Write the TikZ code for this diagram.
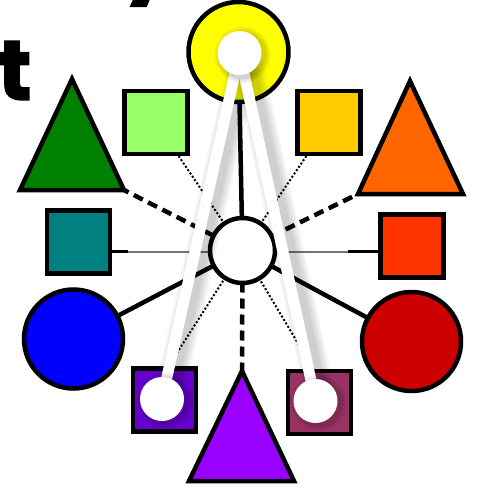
\documentclass[tikz,border=0pt]{standalone}
\usepackage{fontspec}
\newfontfamily\heavy{Poppins}[BoldFeatures={FakeBold=1.5}]
\definecolor{cLightGreen}{HTML}{99FF66}
\definecolor{cYellow}{HTML}{FFFF00}
\definecolor{cGold}{HTML}{FFCC00}
\definecolor{cOrange}{HTML}{FF6600}
\definecolor{cRedOrange}{HTML}{FF3300}
\definecolor{cRed}{HTML}{CC0000}
\definecolor{cMauve}{HTML}{993366}
\definecolor{cViolet}{HTML}{9900FF}
\definecolor{cPurple}{HTML}{6600CC}
\definecolor{cBlue}{HTML}{0000FF}
\definecolor{cTeal}{HTML}{008080}
\definecolor{cGreen}{HTML}{008000}
\begin{document}
\begin{tikzpicture}[x=1pt,y=-1pt,
  outl/.style={draw=black, line width=4.5pt, line join=miter},
  sq/.style={outl, rectangle, minimum size=63pt, inner sep=0pt},
  rnd/.style={outl, circle, inner sep=0pt},
  thickline/.style={line width=4.5pt},
  dashline/.style={line width=4.5pt, dash pattern=on 10pt off 6pt},
  dotline/.style={line width=2pt, dash pattern=on 2pt off 2pt},
  thinline/.style={line width=2pt},
  hole/.style={circle, fill=white, minimum size=44pt, inner sep=0pt},
  holeshade/.style={circle, fill=black, opacity=0.06, inner sep=0pt},
  beamshade/.style={line cap=butt, black, opacity=0.04},
  beam/.style={line width=11pt, white, line cap=butt},
  bigtext/.style={anchor=base west, inner sep=0pt, font=\heavy\bfseries\fontsize{85}{85}\selectfont}
  ]
\useasboundingbox (0,0) rectangle (477,489);
\fill[white] (0,0) rectangle (477,489);

% partial heading text
\node[bigtext] (ty) at (122,-16) {y};
\node[bigtext] (tt) at (-3,100) {t};

% centres and corner points
\coordinate (cC) at (242.5,250.5);
\coordinate (yelC) at (238.5,52);
\coordinate (blueC) at (73.5,339);
\coordinate (redC) at (411.5,341.5);
\coordinate (lgC) at (156,122.5);
\coordinate (goldC) at (329,122.5);
\coordinate (tealC) at (78.5,242);
\coordinate (roC) at (412,246);
\coordinate (puC) at (164.5,400);
\coordinate (muC) at (319.5,402.5);
\coordinate (gA) at (72,79);  \coordinate (gL) at (20,190);  \coordinate (gR) at (124,190);
\coordinate (oA) at (410,81); \coordinate (oL) at (358,194); \coordinate (oR) at (463,194);
\coordinate (vA) at (242,371); \coordinate (vL) at (189,481); \coordinate (vR) at (294,481);
\coordinate (puEnd) at (166,370);
\coordinate (muEnd) at (314,370);
\coordinate (tealMid) at (128,251.5);
\coordinate (roMid) at (348,251.5);

% connectors (drawn first, shapes cover their ends)
\draw[thickline] (cC) -- (yelC);
\draw[dashline] (cC) -- (gR);
\draw[dashline] (cC) -- (oL);
\draw[dashline] (cC) -- (vA);
\draw[dotline] (cC) -- (lgC);
\draw[dotline] (cC) -- (goldC);
\draw[dotline] (cC) -- (puEnd);
\draw[dotline] (cC) -- (muEnd);
\draw[thickline] (cC) -- (blueC);
\draw[thickline] (cC) -- (redC);
\draw[thinline, black!55] (cC |- tealMid) -- (tealMid);
\draw[thinline, line width=2.4pt] (tealMid) -- (tealC |- tealMid);
\draw[thinline, black!55] (cC |- roMid) -- (roMid);
\draw[thinline, line width=2.4pt] (roMid) -- (roC |- roMid);

% shapes
\filldraw[outl, fill=cGreen] (gA) -- (gL) -- (gR) -- cycle;
\filldraw[outl, fill=cOrange] (oA) -- (oL) -- (oR) -- cycle;
\filldraw[outl, fill=cViolet] (vA) -- (vL) -- (vR) -- cycle;

\node[rnd, fill=cYellow, minimum size=100pt] (yel) at (yelC) {};
\node[rnd, fill=cBlue, minimum size=99pt] (blue) at (blueC) {};
\node[rnd, fill=cRed, minimum size=99pt] (red) at (redC) {};

\node[sq, fill=cLightGreen] (lg) at (lgC) {};
\node[sq, fill=cGold] (gold) at (goldC) {};
\node[sq, fill=cTeal] (teal) at (tealC) {};
\node[sq, fill=cRedOrange] (ro) at (roC) {};
\node[sq, fill=cPurple] (pu) at (puC) {};
\node[sq, fill=cMauve] (mu) at (muC) {};

\node[rnd, fill=white, minimum size=65pt] (c) at (cC) {};

% inner white holes
\coordinate (yh) at (239.5,53);
\coordinate (ph) at (162,399);
\coordinate (mh) at (315.5,401);

% beams with soft shadows
\foreach \w in {30,26,22,18,14} {
  \draw[beamshade, line width=\w pt] ([xshift=6pt]yh) -- ([xshift=6pt]ph);
  \draw[beamshade, line width=\w pt] ([xshift=6pt]yh) -- ([xshift=6pt]mh);
}
\draw[beam] (yh) -- (ph);
\draw[beam] (yh) -- (mh);

\foreach \h in {yh,ph,mh} {
  \foreach \s in {56,52,48} {
    \node[holeshade, minimum size=\s pt] at ([xshift=3pt,yshift=-2pt]\h) {};
  }
}
\node[hole] (yhole) at (yh) {};
\node[hole] (phole) at (ph) {};
\node[hole] (mhole) at (mh) {};
\end{tikzpicture}
\end{document}
